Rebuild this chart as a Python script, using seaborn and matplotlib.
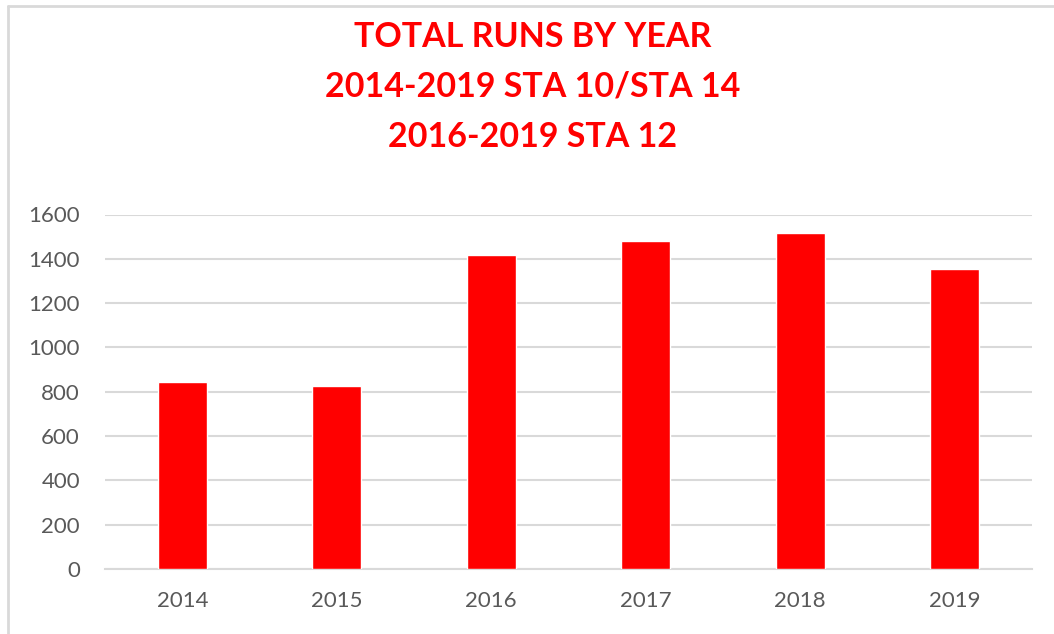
import matplotlib
matplotlib.use("Agg")
import matplotlib.pyplot as plt
import seaborn as sns
import pandas as pd

# values
years = ["2014", "2015", "2016", "2017", "2018", "2019"]
runs = [842, 824, 1415, 1479, 1517, 1353]
yticks = [0, 200, 400, 600, 800, 1000, 1200, 1400, 1600]
title_lines = ["TOTAL RUNS BY YEAR", "2014-2019 STA 10/STA 14", "2016-2019 STA 12"]

df = pd.DataFrame({"year": years, "runs": runs})

sns.set_theme(style="white")
plt.rcParams["font.family"] = ["Lato", "DejaVu Sans"]

fig = plt.figure(figsize=(10.54, 6.34), dpi=100)
ax = fig.add_axes([105 / 1054, 65 / 634, 927 / 1054, 354.5 / 634])

sns.barplot(data=df, x="year", y="runs", color="#ff0000", saturation=1,
            width=0.317, ax=ax, zorder=3)

ax.set_xlim(-0.5, len(years) - 0.5)
ax.set_ylim(0, 1600)
ax.set_yticks(yticks)
ax.yaxis.grid(True, color="#d9d9d9", lw=1.5, zorder=0)
ax.set_axisbelow(True)
for s in ["top", "right", "left"]:
    ax.spines[s].set_visible(False)
ax.spines["bottom"].set_color("#d9d9d9")
ax.spines["bottom"].set_linewidth(1.5)
ax.tick_params(axis="both", length=0, labelsize=16, labelcolor="#595959")
ax.tick_params(axis="x", pad=16)
ax.tick_params(axis="y", pad=18)
ax.set_xlabel("")
ax.set_ylabel("")

for i, line in enumerate(title_lines):
    fig.text(533 / 1054, 1 - (37 + i * 50) / 634, line, ha="center", va="center",
             color="#ff0000", fontsize=24.5, fontweight="bold")

# light chart-area border (only top and left edges show in the reference)
fig.add_artist(plt.Line2D([7.5 / 1054, 1], [1 - 6 / 634, 1 - 6 / 634],
                          transform=fig.transFigure, color="#d9d9d9", lw=2))
fig.add_artist(plt.Line2D([7.5 / 1054, 7.5 / 1054], [0, 1 - 6 / 634],
                          transform=fig.transFigure, color="#d9d9d9", lw=2))

fig.savefig("out.png", dpi=100)
